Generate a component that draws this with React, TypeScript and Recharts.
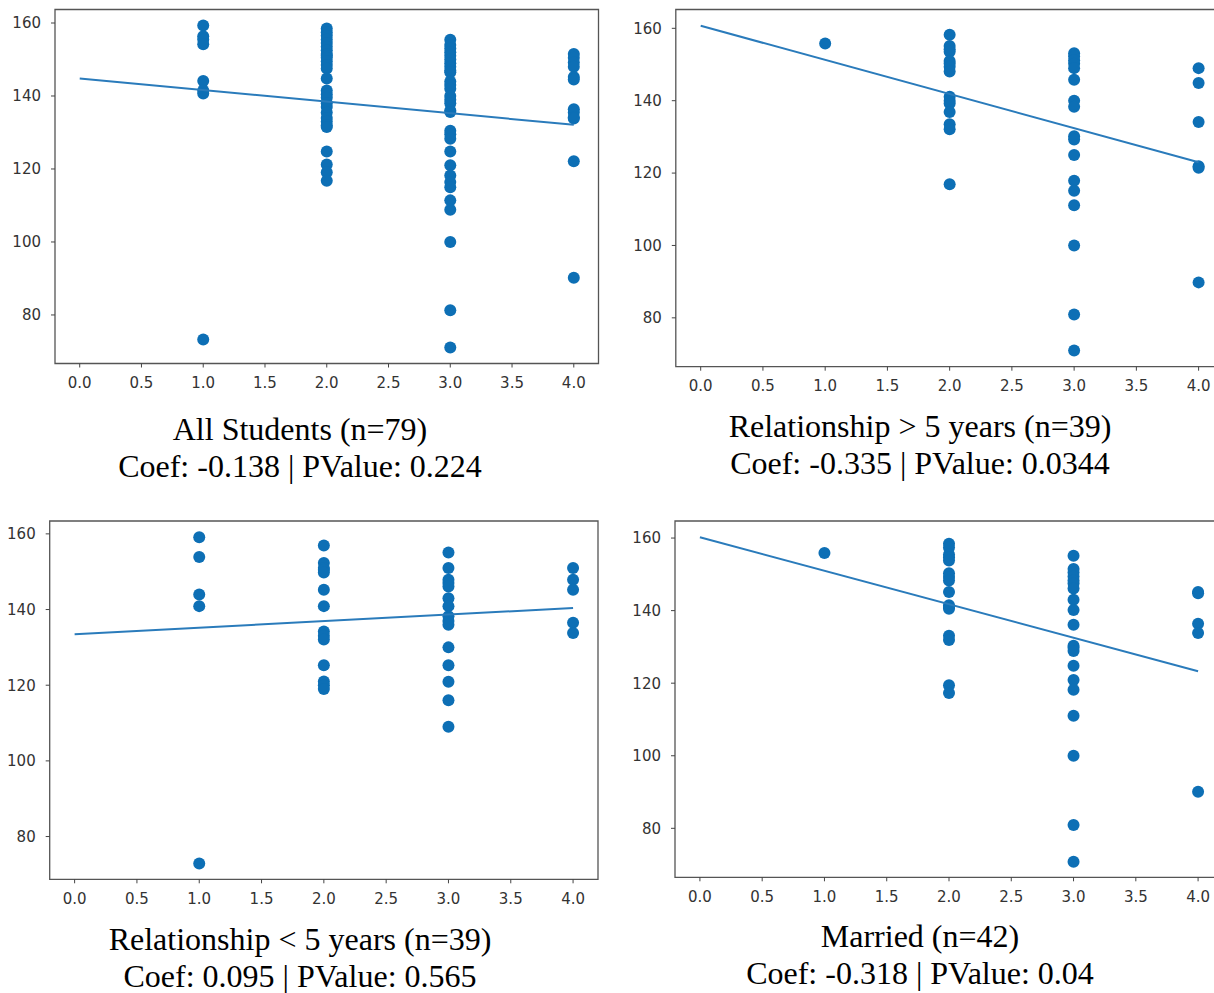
import { ReferenceArea, Scatter, ScatterChart, XAxis, YAxis } from "recharts";

// years-of-relationship category (x) vs score (y), grouped by x value
const allX1 = [159.3, 156.4, 155.5, 154.2, 144.1, 141.5, 140.7, 73.3];
const allX2 = [158.5, 157.5, 156.5, 155.5, 154.5, 153.5, 152.5, 151.5, 151, 150.5, 149.5, 148.5, 147.5, 144.8, 141.5, 140.5, 139.5, 138, 137, 135.5, 134, 133, 132, 131.5, 124.8, 121.2, 119.1, 116.8];
const allX3 = [155.4, 154, 153, 152, 151, 150, 149, 148, 147, 146.5, 144, 143, 142, 140, 139, 138, 136, 135.6, 130.5, 129.5, 128.3, 124.8, 121, 118.2, 116.4, 115, 111.4, 108.8, 100, 81.3, 71.1];
const allX4 = [151.5, 150.5, 149.2, 148, 145.2, 144.5, 136.4, 135.5, 134.2, 133.8, 122.1, 90.2];
const allFit = [144.8, 132.1];

const longX1 = [155.8];
const longX2 = [158.2, 155.1, 154.2, 153.5, 151, 150.3, 149.4, 148.1, 141.1, 140, 139.2, 136.9, 133.5, 132.1, 116.9];
const longX3 = [153.1, 152.2, 151.2, 150.2, 149, 145.8, 140, 138.3, 130.2, 129.3, 125, 117.9, 115.1, 111.1, 100, 80.9, 71];
const longX4 = [149, 144.9, 134.1, 121.9, 121.5, 89.8];
const longFit = [160.7, 123.0];

const shortX1 = [159.1, 153.9, 144, 140.9, 72.9];
const shortX2 = [156.9, 152.3, 151, 150.5, 149.8, 145.2, 140.9, 134.2, 133.1, 132.1, 125.3, 121, 120, 119];
const shortX3 = [155.1, 151, 147.9, 147, 146.1, 143, 140.9, 138.2, 137, 136, 130, 125.3, 120.9, 116, 109];
const shortX4 = [151, 147.9, 145.2, 136.5, 133.8];
const shortFit = [133.5, 140.4];

const marriedX1 = [155.9];
const marriedX2 = [158.4, 157.4, 155.5, 154.7, 153.8, 150.3, 149.3, 148.3, 145.1, 141.5, 141, 140.5, 133.1, 131.9, 119.4, 117.3];
const marriedX3 = [155.1, 151.5, 150.5, 149.4, 148.3, 147.5, 146.1, 143, 140.2, 136.1, 130.3, 129.8, 128.9, 124.8, 120.9, 118.2, 111, 100, 80.9, 70.8];
const marriedX4 = [145.1, 144.8, 136.4, 133.8, 90.1];
const marriedFit = [160.2, 123.3];

const fitX = [0, 4];
const xTicks = [0, 0.5, 1, 1.5, 2, 2.5, 3, 3.5, 4];
const yTicks = [80, 100, 120, 140, 160];

const DOT = "#0d6fb5";
const LINE = "#2a7bbb";
const FRAME = "#555";

const toPoints = (groups: number[][]) =>
  groups.flatMap((ys, i) => ys.map((y) => ({ x: i + 1, y })));

const Dot = (props: any) => <circle cx={props.cx} cy={props.cy} r={6} fill={DOT} />;
const NoDot = () => <g />;

const tickStyle = { fontFamily: "DejaVu Sans", fontSize: 15, fill: "#333" };

interface PanelProps {
  left: number;
  top: number;
  groups: number[][];
  fit: number[];
  yDomain: [number, number];
  margin: { top: number; right: number; bottom: number; left: number };
  yWidth: number;
  title: string;
  stats: string;
  captionTop: number;
}

function Panel({ left, top, groups, fit, yDomain, margin, yWidth, title, stats, captionTop }: PanelProps) {
  const points = toPoints(groups);
  const fitLine = fitX.map((x, i) => ({ x, y: fit[i] }));
  return (
    <>
      <div style={{ position: "absolute", left, top }}>
        <ScatterChart width={620} height={400} margin={margin}>
          <XAxis
            type="number"
            dataKey="x"
            domain={[-0.2, 4.2]}
            ticks={xTicks}
            tickFormatter={(v: number) => v.toFixed(1)}
            axisLine={false}
            tickLine={{ stroke: "#444" }}
            tickSize={4}
            tickMargin={10}
            height={30}
            tick={tickStyle}
            allowDataOverflow
          />
          <YAxis
            type="number"
            dataKey="y"
            domain={yDomain}
            ticks={yTicks}
            axisLine={false}
            tickLine={{ stroke: "#444" }}
            tickSize={4}
            tickMargin={10}
            width={yWidth}
            tick={tickStyle}
            allowDataOverflow
          />
          <Scatter data={points} shape={Dot} isAnimationActive={false} />
          <Scatter
            data={fitLine}
            shape={NoDot}
            line={{ stroke: LINE, strokeWidth: 2 }}
            isAnimationActive={false}
          />
          <ReferenceArea
            x1={-0.2}
            x2={4.2}
            y1={yDomain[0]}
            y2={yDomain[1]}
            fill="none"
            fillOpacity={0}
            stroke={FRAME}
            strokeWidth={1.3}
            ifOverflow="visible"
          />
        </ScatterChart>
      </div>
      <div
        style={{
          position: "absolute",
          left: left,
          width: 600,
          top: captionTop,
          textAlign: "center",
          fontFamily: "Liberation Serif",
          fontSize: 32,
          lineHeight: "37px",
          color: "#000",
        }}
      >
        <div>{title}</div>
        <div>{stats}</div>
      </div>
    </>
  );
}

export default function App() {
  return (
    <div
      style={{
        position: "absolute",
        left: 0,
        top: 0,
        width: 1214,
        height: 993,
        overflow: "hidden",
        background: "#fff",
      }}
    >
      <Panel
        left={0}
        top={0}
        groups={[allX1, allX2, allX3, allX4]}
        fit={allFit}
        yDomain={[66.7, 163.7]}
        margin={{ top: 9.5, right: 21.5, bottom: 6.5, left: 5 }}
        yWidth={50}
        title="All Students (n=79)"
        stats="Coef: -0.138 | PValue: 0.224"
        captionTop={411}
      />
      <Panel
        left={620}
        top={0}
        groups={[longX1, longX2, longX3, longX4]}
        fit={longFit}
        yDomain={[66.5, 165.2]}
        margin={{ top: 9.5, right: 16.5, bottom: 3.3, left: 5.8 }}
        yWidth={50}
        title="Relationship > 5 years (n=39)"
        stats="Coef: -0.335 | PValue: 0.0344"
        captionTop={408}
      />
      <Panel
        left={0}
        top={510}
        groups={[shortX1, shortX2, shortX3, shortX4]}
        fit={shortFit}
        yDomain={[68.7, 163.4]}
        margin={{ top: 11, right: 22, bottom: 0.7, left: 4.7 }}
        yWidth={45}
        title="Relationship < 5 years (n=39)"
        stats="Coef: 0.095 | PValue: 0.565"
        captionTop={921}
      />
      <Panel
        left={620}
        top={510}
        groups={[marriedX1, marriedX2, marriedX3, marriedX4]}
        fit={marriedFit}
        yDomain={[66.5, 164.7]}
        margin={{ top: 11, right: 17, bottom: 2.7, left: 5 }}
        yWidth={50}
        title="Married (n=42)"
        stats="Coef: -0.318 | PValue: 0.04"
        captionTop={918}
      />
    </div>
  );
}
